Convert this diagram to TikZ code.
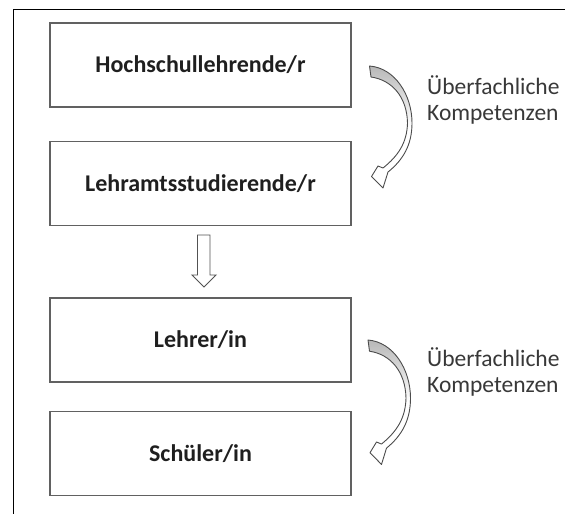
\documentclass[tikz,border=0pt]{standalone}
\usepackage{fontspec}
\setmainfont{Carlito}
\begin{document}
\begin{tikzpicture}[x=1pt,y=-1pt,
  role/.style={draw=black!62, line width=1.5pt, minimum width=301pt,
    minimum height=84pt, inner sep=0pt, text=black!88,
    font=\fontsize{24}{26}\selectfont\bfseries},
  blockarrow/.style={draw=black!68, line width=0.9pt, line join=miter, fill=white},
  note/.style={align=left, anchor=base west, inner sep=0pt, text=black!78,
    font=\fontsize{23.5}{26}\selectfont},
  curvedarrow/.pic={
    \draw[draw=black!70, line width=0.9pt, line join=round,
          top color=black!28, bottom color=white, middle color=white]
      (0,0) .. controls (25.5,2) and (42.5,29) .. (42.5,57)
            .. controls (42.5,79) and (33.5,94) .. (18.5,106)
            -- (13.5,122) -- (2,110.5) -- (8.5,100) -- (13.5,102)
            .. controls (28.5,90) and (37.5,77) .. (38,57)
            .. controls (37.5,31) and (22.5,14) .. (1.5,11)
            -- cycle;
  }]
\useasboundingbox (0,0) rectangle (565,514);
% frame lines (top and left)
\draw[line width=1pt] (13,514) -- (13,9) -- (565,9);

% role boxes
\node[role] (hs) at (200.5,65)    {Hochschullehrende/r};
\node[role] (ls) at (200.5,183.5) {Lehramtsstudierende/r};
\node[role] (lh) at (200.5,340)   {Lehrer/in};
\node[role] (sc) at (200.5,453.5) {Schüler/in};

% hollow block arrow between the two pairs
\draw[blockarrow] (197.5,235) -- (210,235) -- (210,275) -- (216,275)
  -- (204,287) -- (192,275) -- (197.5,275) -- cycle;

% curved transfer arrows with their labels
\pic at (369.5,66) {curvedarrow};
\node[note] (n1) at (427,120.7) {Überfachliche\\Kompetenzen};

\pic[yscale=1.02] at (368,340) {curvedarrow};
\node[note] (n2) at (427,392.5) {Überfachliche\\Kompetenzen};
\end{tikzpicture}
\end{document}
